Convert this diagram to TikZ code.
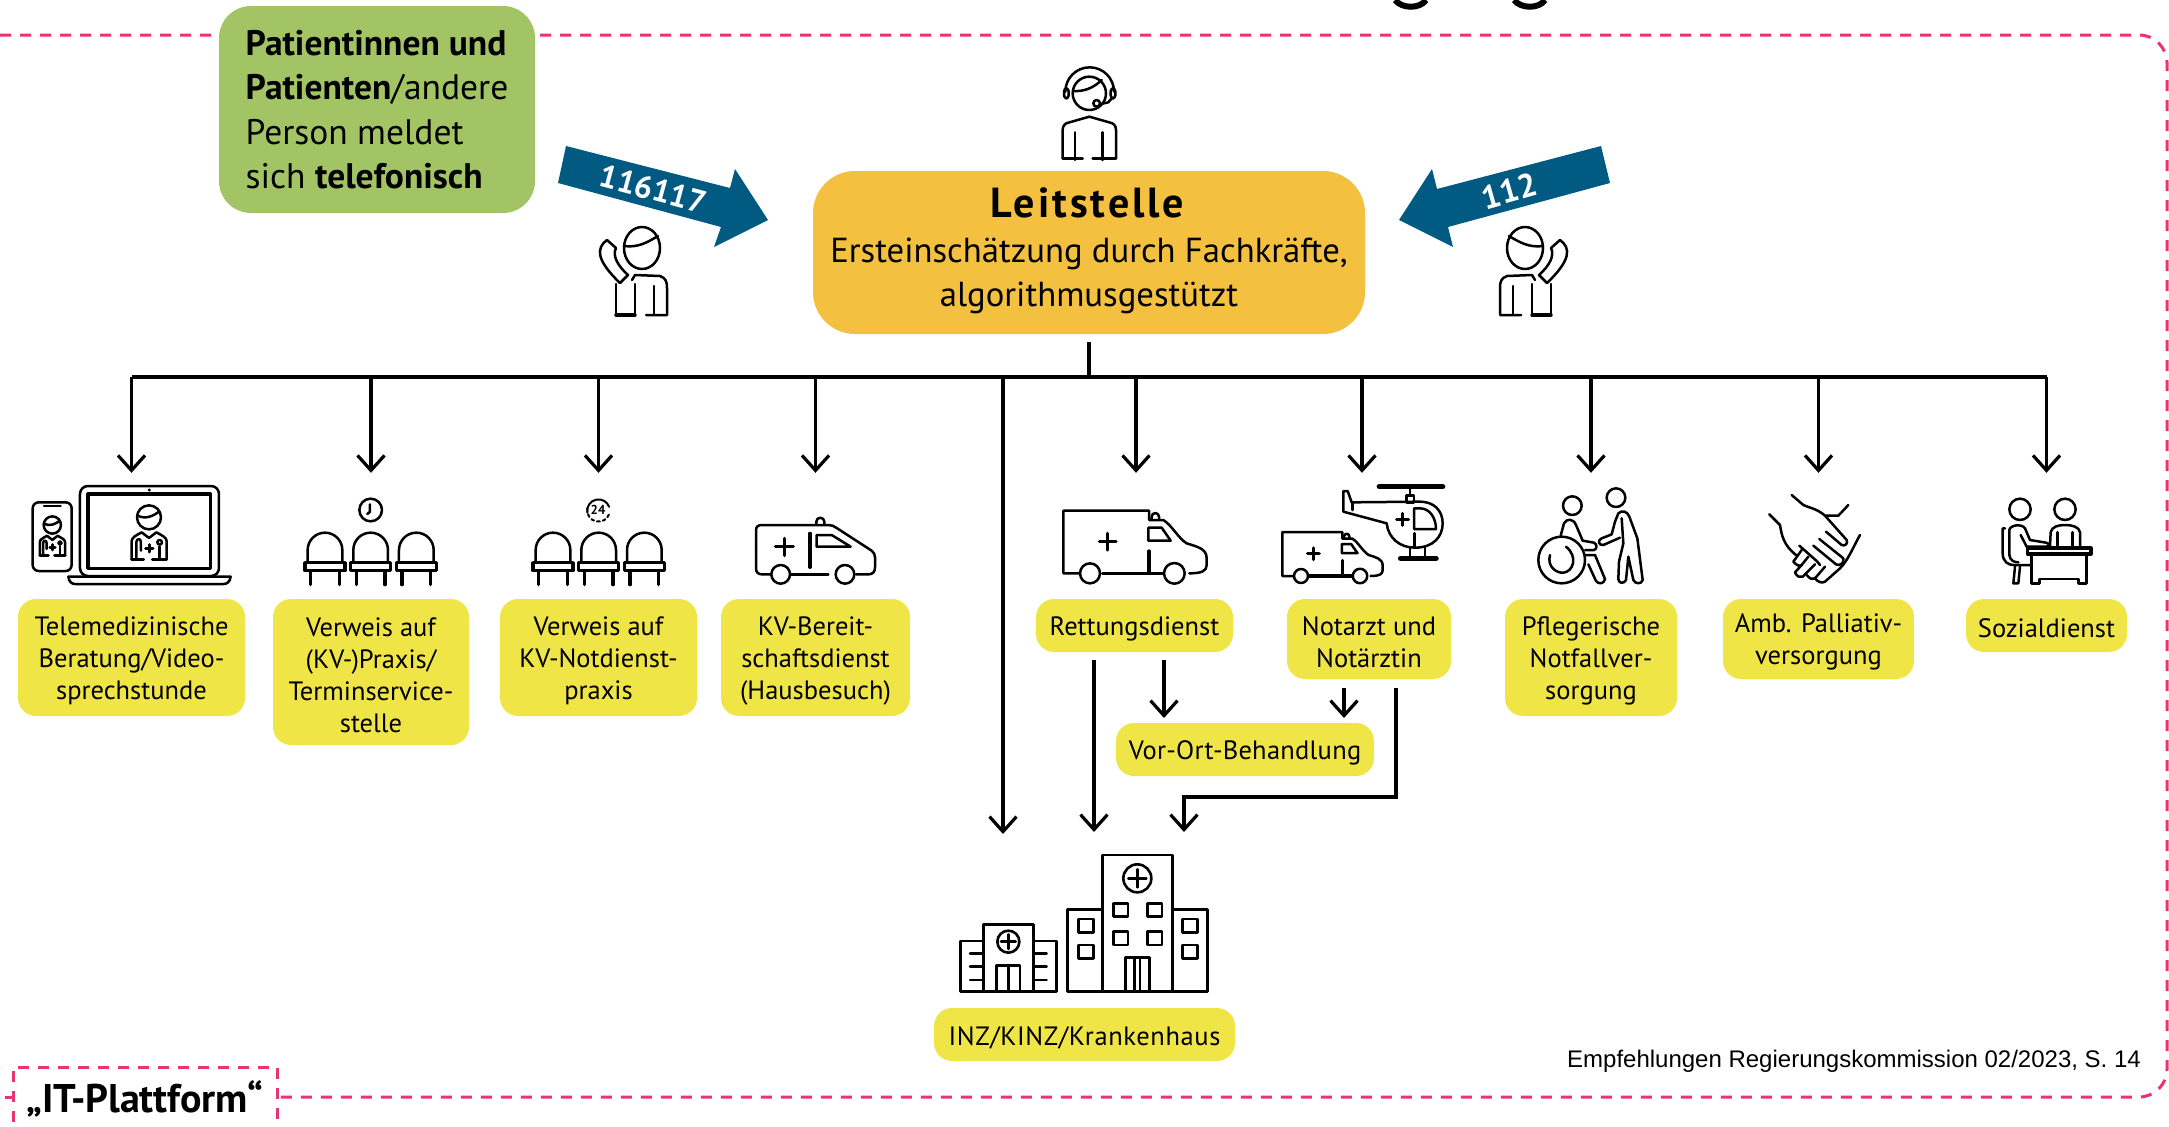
\documentclass[tikz,border=0pt]{standalone}
\usepackage{fontspec}
\setmainfont{PT Sans}
\newfontfamily\creditfont{Liberation Sans}
\usetikzlibrary{arrows.meta,positioning,calc}
\definecolor{boxyellow}{HTML}{F0E546}
\definecolor{boxorange}{HTML}{F3C03F}
\definecolor{boxgreen}{HTML}{A2C465}
\definecolor{phoneblue}{HTML}{005A82}
\definecolor{framepink}{HTML}{EC3276}
\newcommand{\toprule}{\rule{0pt}{25pt}}
\tikzset{
  infobox/.style={fill=boxyellow,rounded corners=18pt,align=center,inner sep=0pt,
    font=\fontsize{26.5}{32}\selectfont},
  link/.style={line width=3.2pt,-{Straight Barb[length=15pt,width=27pt]}},
  plainlink/.style={line width=3.8pt},
  frameline/.style={framepink,line width=3pt,dash pattern=on 11pt off 9pt},
  icon/.style={line width=2.5pt,line cap=round,line join=round},
  caller/.pic={
    \draw[icon] (0,0) circle[x radius=18,y radius=21];
    \draw[icon] (-18,-2) .. controls (-4,0) and (6,-6) .. (16,-12);
    \draw[icon] (-35,-8) .. controls (-46,0) and (-46,12) .. (-22,35) -- (-14,27)
      .. controls (-24,18) and (-30,8) .. (-26,0) -- cycle;
    \draw[icon] (-26,36) -- (-26,67);
    \draw[icon] (-7,36) -- (-7,67);
    \draw[icon,line width=3.4pt] (-26,67) -- (-7,67);
    \draw[icon] (-10,32) -- (-7,27) -- (18,28) .. controls (24,30) and (25,34) .. (25,40) -- (25,67) -- (4,67);
    \draw[icon] (12,38) -- (12,67);
  },
  operator/.pic={
    \draw[icon] (148,115) circle[radius=50];
    \draw[icon] (100,108) .. controls (130,110) and (160,100) .. (185,75);
    \draw[icon] (76,110) arc[start angle=180,end angle=360,radius=73];
    \draw[icon,rounded corners=3pt] (72,100) rectangle (86,130);
    \draw[icon,rounded corners=3pt] (212,100) rectangle (226,130);
    \draw[icon] (215,130) -- (205,142) -- (182,147);
    \draw[icon] (170,145) circle[radius=10];
    \draw[icon] (68,310) -- (68,225) .. controls (68,212) and (75,205) .. (85,203)
      -- (148,185) -- (211,203) .. controls (221,205) and (228,212) .. (228,225) -- (228,310);
    \draw[icon] (68,310) -- (128,310);
    \draw[icon] (158,310) -- (228,310);
    \draw[icon] (105,232) -- (105,315);
    \draw[icon] (187,232) -- (187,315);
  },
  doctor/.pic={
    \draw[icon] (0,0) circle[radius=36];
    \draw[icon] (-36,-6) .. controls (-10,8) and (15,-5) .. (31,-18);
    \draw[icon] (-52,125) -- (-52,72) .. controls (-52,60) and (-40,55) .. (-22,45) -- (0,62)
      -- (22,45) .. controls (40,55) and (53,60) .. (53,72) -- (53,125);
    \draw[icon,line width=3pt] (-52,125) -- (-16,125);
    \draw[icon,line width=3pt] (10,125) -- (53,125);
    \draw[icon] (-38,120) -- (-38,75) .. controls (-38,62) and (-24,62) .. (-24,75) -- (-24,100);
    \draw[icon] (32,120) -- (32,88);
    \draw[icon] (32,75) circle[radius=7];
    \draw[icon,line width=3pt] (-10,93) -- (12,93);
    \draw[icon,line width=3pt] (1,82) -- (1,104);
  },
  chairrow/.pic={
    \foreach \seatx in {-137,0,137} {
      \begin{scope}[xshift=\seatx]
        \draw[icon] (-52,0) -- (-52,-38) arc[start angle=180,end angle=360,radius=52] -- (52,0);
        \draw[icon,line width=3.6pt] (-60,0) rectangle (60,24);
        \draw[icon,line width=3.2pt] (-43,24) -- (-43,66);
        \draw[icon,line width=3.2pt] (43,24) -- (43,66);
      \end{scope}
    }
  },
  rescuevan/.pic={
    \draw[icon] (120,295) circle[radius=30];
    \draw[icon] (373,295) circle[radius=31];
    \draw[icon] (90,295) -- (40,295) -- (40,107) -- (297,107) -- (297,135) -- (340,135)
      .. controls (365,150) and (385,190) .. (410,205)
      .. controls (440,215) and (470,220) .. (470,250) -- (470,270)
      .. controls (470,288) and (455,295) .. (418,295);
    \draw[icon,line width=3.6pt] (158,295) -- (340,295);
    \draw[icon,line width=3.2pt] (297,228) -- (297,295);
    \draw[icon,line width=3.2pt] (148,200) -- (198,200);
    \draw[icon,line width=3.2pt] (173,175) -- (173,225);
    \draw[icon] (295,158) -- (295,197) -- (362,197) -- (335,158) -- cycle;
    \draw[icon] (305,133) -- (305,125) arc[start angle=180,end angle=360,radius=11] -- (327,133);
  },
}
\begin{document}
\begin{tikzpicture}[x=1pt,y=-1pt]
    \useasboundingbox (0,0) rectangle (2169,1127);
    \draw[frameline,rounded corners=28pt] (0,35) -- (2167,35) -- (2167,1097) -- (280,1097);
    \draw[frameline] (5,1097) -- (13,1097);
    \draw[frameline] (13,1122) -- (13,1067) -- (277,1067) -- (277,1122);
    \draw[line width=6pt] (1395,0) .. controls (1402,9) and (1420,9) .. (1426,0);
    \draw[line width=6pt] (1514,0) .. controls (1521,9) and (1539,9) .. (1545,0);
    \node[font=\fontsize{40}{40}\selectfont\bfseries] (itlabel) at (145,1099) {„IT-Plattform“};
    \node[font=\creditfont\fontsize{24}{24}\selectfont] (credit) at (1854,1061) {Empfehlungen Regierungskommission 02/2023, S. 14};

    \node[fill=boxgreen,rounded corners=32pt,align=left,inner sep=0pt,minimum width=316pt,minimum height=207pt,
      font=\fontsize{35.5}{44.5}\selectfont] (caller) at (377,109.5)
      {\textbf{Patientinnen und}\\\textbf{Patienten}/andere\\Person meldet\\sich \textbf{telefonisch}};
    \node[fill=boxorange,rounded corners=42pt,align=center,inner sep=0pt,minimum width=552pt,minimum height=163pt,
      font=\fontsize{34.7}{44.5}\selectfont] (leit) at (1089,252.5)
      {{\fontsize{42}{42}\selectfont\addfontfeature{LetterSpace=7}\textbf{Leitstelle}}\\Ersteinschätzung durch Fachkräfte,\\algorithmusgestützt\rule[-10.5pt]{0pt}{10.5pt}};

    \fill[phoneblue] (566,146) -- (558,183) -- (721,227) -- (714,247) -- (768,220) -- (735,169) -- (730,188) -- cycle;
    \fill[phoneblue] (1601,146) -- (1610,183) -- (1448,227) -- (1453,247) -- (1399,220) -- (1432,169) -- (1437,189) -- cycle;
    \node[text=white,rotate=-15,font=\fontsize{32}{32}\selectfont\bfseries] (numA) at (653,189) {116117};
    \node[text=white,rotate=16,font=\fontsize{33}{33}\selectfont\bfseries] (numB) at (1509,191) {112};

    \node[infobox,minimum width=227pt,minimum height=117pt] (tele) at (131.5,657.5) {\toprule Telemedizinische\\Beratung/Video-\\sprechstunde};
    \node[infobox,minimum width=196pt,minimum height=146pt] (verweisA) at (371,672) {\toprule Verweis auf\\(KV-)Praxis/\\Terminservice-\\stelle};
    \node[infobox,minimum width=197pt,minimum height=117pt] (verweisB) at (598.5,657.5) {\toprule Verweis auf\\KV-Notdienst-\\praxis};
    \node[infobox,minimum width=189pt,minimum height=117pt] (kvdienst) at (815.5,657.5) {\toprule KV-Bereit-\\schaftsdienst\\(Hausbesuch)};
    \node[infobox,minimum width=197pt,minimum height=53pt] (rett) at (1134.5,625.5) {\toprule Rettungsdienst};
    \node[infobox,minimum width=164pt,minimum height=80pt] (notarzt) at (1369,639) {\toprule Notarzt und\\Notärztin};
    \node[infobox,minimum width=172pt,minimum height=117pt] (pflege) at (1591,657.5) {\toprule Pflegerische\\Notfallver-\\sorgung};
    \node[infobox,minimum width=191pt,minimum height=80pt] (palliativ) at (1818.5,639) {\toprule Amb. Palliativ-\\versorgung};
    \node[infobox,minimum width=161pt,minimum height=53pt] (sozial) at (2046.5,625.5) {\toprule Sozialdienst};
    \node[infobox,minimum width=258pt,minimum height=53pt] (vorort) at (1245,749.5) {\toprule\addfontfeature{LetterSpace=1}Vor-Ort-Behandlung};
    \node[infobox,minimum width=301pt,minimum height=53pt] (inz) at (1084.5,1034.5) {\toprule\addfontfeature{LetterSpace=2.3}INZ/KINZ/Krankenhaus};

    \coordinate (bus) at (0,377);
    \coordinate (hospA) at (1003,834);
    \coordinate (hospB) at (1094,832);
    \coordinate (hospC) at (1184,832);
    \coordinate (vorA) at (1164,718);
    \coordinate (vorB) at (1344,718);

    \draw[plainlink] ([yshift=-8pt]leit.south) -- (leit.south |- bus);
    \draw[plainlink] (tele.north |- bus) -- (sozial.north |- bus);
    \foreach \target/\offset in {tele/0,verweisA/0,verweisB/0,kvdienst/0,rett/1.5,notarzt/-7,pflege/0,palliativ/0,sozial/0} {
      \draw[link] ([xshift=\offset pt]\target.north |- bus) -- ([xshift=\offset pt,yshift=126pt]\target.north);
    }
    \draw[link] (hospA |- bus) -- (hospA);
    \draw[link] ([yshift=-8pt]rett.south -| hospB) -- (hospB);
    \draw[link] ([yshift=-8pt]rett.south -| vorA) -- (vorA);
    \draw[link] ([yshift=-9pt]notarzt.south -| vorB) -- (vorB);
    \draw[link] ([xshift=27pt,yshift=-9pt]notarzt.south) |- ([yshift=35pt]hospC) -- (hospC);

    \pic at (642,248) {caller};
    \pic[xscale=-1] at (1525,248) {caller};
    \begin{scope}[shift={(1040,55)},scale=1/3]
      \pic[transform shape] at (0,0) {operator};
    \end{scope}

    \begin{scope}[shift={(20,470)},scale=1/3]
      \draw[icon,rounded corners=8pt] (180,48) rectangle (597,318);
      \draw[icon,line width=3.2pt] (204,72) rectangle (572,295);
      \fill (388,60) circle[radius=5];
      \draw[icon] (145,320) -- (632,320) .. controls (630,335) and (622,342) .. (610,342) -- (165,342) .. controls (155,342) and (147,335) .. (145,320) -- cycle;
      \pic[transform shape] at (387,142) {doctor};
      \draw[icon,rounded corners=6pt] (38,97) rectangle (155,303);
      \draw[icon] (72,108) -- (122,108);
      \pic[transform shape,scale=.72] at (97,165) {doctor};
      \pic[transform shape] at (1052,278) {chairrow};
      \draw[icon] (1052,120) circle[radius=34];
      \draw[icon] (1050,103) -- (1050,125) -- (1042,132);
    \end{scope}

    \begin{scope}[shift={(510,480)},scale=1/3]
      \pic[transform shape] at (266,248) {chairrow};
      \draw[icon,line width=2pt] (232,98) arc[start angle=170,end angle=340,radius=34];
      \draw[icon,line width=2pt,dashed] (232,85) arc[start angle=190,end angle=20,radius=34];
      \node[font=\fontsize{13}{13}\selectfont\bfseries,inner sep=0pt] (hourlabel) at (264,90) {24};
      \draw[icon] (738,200) -- (738,150) .. controls (738,140) and (745,135) .. (755,135) -- (955,135) .. controls (965,135) and (972,138) .. (980,144) -- (1085,212) .. controls (1092,218) and (1095,224) .. (1095,232) -- (1095,262) .. controls (1095,276) and (1088,283) .. (1075,283) -- (1038,283);
      \draw[icon] (738,200) -- (738,265) .. controls (738,277) and (745,283) .. (755,283) -- (782,283);
      \draw[icon] (812,283) circle[radius=28];
      \draw[icon] (1005,283) circle[radius=28];
      \draw[icon] (842,283) -- (955,283);
      \draw[icon,line width=3.2pt] (796,200) -- (850,200);
      \draw[icon,line width=3.2pt] (823,175) -- (823,227);
      \draw[icon,line width=3.2pt] (900,160) -- (900,262);
      \draw[icon] (920,165) -- (920,200) -- (1022,200) -- (965,165) -- cycle;
      \draw[icon] (919,133) -- (919,125) arc[start angle=180,end angle=360,radius=12] -- (943,133);
    \end{scope}

    \begin{scope}[shift={(1050,475)},scale=1/3]
      \pic[transform shape] at (0,0) {rescuevan};
      \pic[transform shape,scale=.7] at (669,96.5) {rescuevan};
      \draw[line width=5.5pt,line cap=round] (988,35) -- (1178,35);
      \draw[icon] (1080,40) -- (1080,62);
      \draw[icon] (1070,62) rectangle (1092,82);
      \draw[icon] (880,48) -- (880,110) -- (1010,145) .. controls (1015,190) and (1050,218) .. (1095,218)
        .. controls (1150,218) and (1178,185) .. (1178,145) .. controls (1178,105) and (1150,80) .. (1110,80)
        -- (905,82) -- (893,48) -- cycle;
      \draw[icon] (908,85) -- (908,105);
      \draw[icon] (1092,100) -- (1092,162) -- (1158,162) .. controls (1158,130) and (1140,100) .. (1110,100) -- cycle;
      \draw[icon,line width=3pt] (1040,133) -- (1076,133);
      \draw[icon,line width=3pt] (1058,115) -- (1058,151);
      \draw[icon,line width=3pt] (1093,175) -- (1093,218);
      \draw[icon] (1080,218) -- (1080,245);
      \draw[icon] (1125,218) -- (1125,245);
      \draw[line width=5.5pt,line cap=round] (1052,250) -- (1158,250);
    \end{scope}

    \begin{scope}[shift={(1520,475)},scale=1/3]
      \draw[icon] (125,255) circle[radius=70];
      \draw[icon] (90,240) .. controls (80,275) and (110,295) .. (130,293) .. controls (160,290) and (175,245) .. (138,215);
      \draw[icon] (157,92) circle[radius=28];
      \draw[icon] (122,182) -- (132,145) .. controls (140,130) and (160,130) .. (168,150) -- (188,197) -- (222,203)
        .. controls (232,208) and (232,222) .. (222,225) -- (195,225);
      \draw[icon] (197,240) -- (225,240) -- (255,312) .. controls (252,328) and (235,328) .. (228,318) -- (205,268);
      \draw[icon] (288,68) circle[radius=28];
      \draw[icon] (285,140) -- (295,115) .. controls (305,105) and (322,108) .. (328,125) -- (352,190) -- (368,315)
        .. controls (365,328) and (345,328) .. (340,315) -- (325,245) -- (318,315)
        .. controls (312,328) and (295,325) .. (295,312) -- (297,260) -- (310,205) -- (305,130);
      \draw[icon] (300,188) -- (250,210) .. controls (235,212) and (232,195) .. (245,190) -- (275,178) -- (285,140);

      \draw[icon] (815,60) -- (850,90) .. controls (865,98) and (890,100) .. (915,122) -- (955,122) -- (985,90);
      \draw[icon] (915,122) -- (980,195) .. controls (985,205) and (975,215) .. (965,210) -- (918,170);
      \draw[icon] (898,192) -- (970,250) .. controls (975,262) and (960,275) .. (948,268) -- (880,212);
      \draw[icon] (748,118) -- (780,150) .. controls (785,180) and (790,210) .. (828,240);
      \draw[icon] (838,212) -- (890,258) -- (900,270);
      \draw[icon] (845,225) -- (820,260) .. controls (830,270) and (835,275) .. (845,270) -- (865,245);
      \draw[icon] (845,270) -- (825,292) .. controls (830,305) and (840,308) .. (848,305) -- (885,268);
      \draw[icon] (860,300) .. controls (870,312) and (878,315) .. (885,310) -- (915,275);
      \draw[icon] (885,310) .. controls (895,322) and (905,325) .. (915,320) -- (960,280) .. controls (985,255) and (1000,215) .. (1020,180);
    \end{scope}

    \begin{scope}[shift={(1980,475)},scale=1/3]
      \draw[icon] (120,103) circle[radius=32];
      \draw[icon] (255,103) circle[radius=32];
      \draw[icon] (88,240) -- (88,165) .. controls (90,150) and (125,145) .. (135,160) -- (150,195) -- (198,203) .. controls (210,205) and (210,215) .. (198,215) -- (140,215) -- (122,180);
      \draw[icon] (75,160) -- (68,160) -- (68,235) .. controls (68,260) and (85,270) .. (100,270) -- (155,270);
      \draw[icon] (88,240) .. controls (90,255) and (100,262) .. (115,262);
      \draw[icon] (105,275) -- (100,325) -- (115,325) -- (120,275);
      \draw[icon] (210,212) -- (212,172) .. controls (215,155) and (235,150) .. (255,150) .. controls (275,150) and (298,155) .. (300,172) -- (300,215);
      \draw[icon,line width=3pt] (232,172) -- (232,215);
      \draw[icon,line width=3pt] (278,172) -- (278,215);
      \draw[icon,line width=3.2pt] (142,219) rectangle (333,237);
      \draw[icon] (155,238) -- (155,325) -- (178,325) -- (178,312) -- (295,312) -- (295,325) -- (320,325) -- (320,238);
    \end{scope}

    \begin{scope}[shift={(900,780)},scale=1/3]
      \draw[icon,line width=2.6pt] (250,635) -- (250,433) -- (400,433) -- (400,635);
      \draw[icon,line width=2.6pt] (250,483) -- (182,483) -- (182,635) -- (470,635) -- (470,483) -- (400,483);
      \draw[icon,line width=2.6pt] (325,485) circle[radius=33];
      \draw[icon,line width=2.6pt] (303,485) -- (347,485);
      \draw[icon,line width=2.6pt] (325,463) -- (325,507);
      \draw[icon,line width=2.6pt] (290,635) -- (290,557) -- (360,557) -- (360,635);
      \draw[icon,line width=2.6pt] (325,557) -- (325,635);
      \foreach \floory in {520,560,600} {
        \draw[icon] (210,\floory) -- (250,\floory);
        \draw[icon] (400,\floory) -- (440,\floory);
      }
      \draw[icon,line width=2.6pt] (608,635) -- (608,225) -- (817,225) -- (817,635);
      \draw[icon,line width=2.6pt] (502,388) rectangle (923,635);
      \draw[white,line width=3pt] (612,388) -- (813,388);
      \draw[icon,line width=2.6pt] (712,295) circle[radius=42];
      \draw[icon,line width=2.6pt] (685,295) -- (739,295);
      \draw[icon,line width=2.6pt] (712,268) -- (712,322);
      \foreach \winx/\winy in {640/370,742/370,640/455,742/455,536/417,536/495,848/417,848/495} {
        \draw[icon,line width=2.6pt] (\winx,\winy) rectangle ++(44,40);
      }
      \draw[icon,line width=2.6pt] (676,635) -- (676,533) -- (748,533) -- (748,635);
      \draw[icon] (703,533) -- (703,635);
      \draw[icon] (720,533) -- (720,635);
    \end{scope}
  \end{tikzpicture}
\end{document}
